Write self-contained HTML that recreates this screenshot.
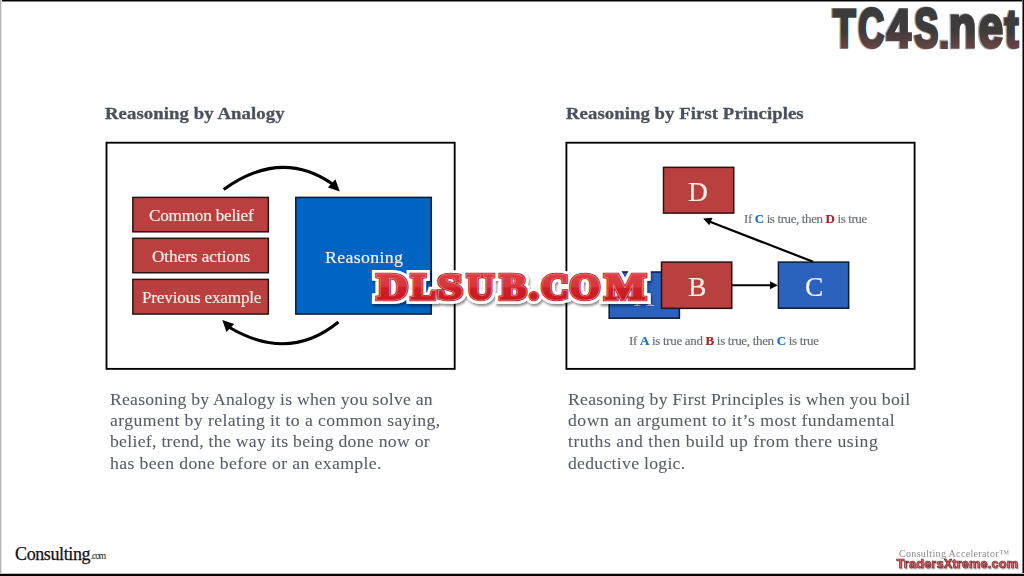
<!DOCTYPE html>
<html><head><meta charset="utf-8">
<style>
html,body{margin:0;padding:0;}
body{width:1024px;height:576px;position:relative;overflow:hidden;background:#fff;font-family:"Liberation Serif",serif;}
.a{position:absolute;}
.bt{left:0;top:0;width:1024px;height:1px;background:#000;box-shadow:0 1px 0 #8a8a8a;}
.bl{left:0;top:0;width:1px;height:576px;background:#b4b4b4;box-shadow:1px 0 0 #e4e4e4;}
.br{left:1023px;top:0;width:1px;height:576px;background:#000;box-shadow:-1px 0 0 #7a7a7a;}
.bb{left:0;top:574px;width:1024px;height:2px;background:#000;box-shadow:0 -1px 0 #c0c0c0;}
.title{font-weight:bold;color:#4b515d;font-size:17px;letter-spacing:1px;white-space:nowrap;line-height:20px;transform:scaleX(1.1);transform-origin:0 0;-webkit-text-stroke:0.3px #4b515d;}
.frame{border:2px solid #000;box-sizing:border-box;}
.rbox{background:#b9403f;border:1.5px solid #2a1212;box-sizing:border-box;}
.bbox{background:#0064c2;border:1.5px solid #0a2a55;box-sizing:border-box;}
.bbox2{background:#2a62bd;border:1.5px solid #0b1a33;box-sizing:border-box;}
.t{color:#f6eeea;white-space:nowrap;transform-origin:0 0;-webkit-text-stroke:0.2px #f6eeea;}
.sx{transform:scaleX(1.07);}
.body{color:#575c66;font-size:16.5px;letter-spacing:0.78px;line-height:21.3px;white-space:nowrap;transform:scaleX(1.07);transform-origin:0 0;-webkit-text-stroke:0.08px #575c66;}
.cap{color:#6a6e74;font-size:12px;white-space:nowrap;line-height:14px;transform:scaleX(1.08);transform-origin:0 0;-webkit-text-stroke:0.15px #6a6e74;}
.cb{color:#1a6dcc;font-weight:bold;-webkit-text-stroke:0.15px #1a6dcc;}
.cr{color:#a52225;font-weight:bold;-webkit-text-stroke:0.15px #a52225;}
</style></head><body>
<div class="a bt"></div><div class="a bl"></div><div class="a br"></div><div class="a bb"></div>

<div class="a title" id="tl" style="left:104.8px;top:104px;letter-spacing:0.086px;">Reasoning by Analogy</div>
<div class="a title" id="tr" style="left:566.4px;top:104px;letter-spacing:0.074px;">Reasoning by First Principles</div>

<svg class="a" style="left:0;top:0" width="1024" height="576"><g fill="none" stroke="#000" stroke-width="1.85"><rect x="106.5" y="142.7" width="348.17" height="226.16"/><rect x="566.4" y="142.7" width="348.2" height="226.16"/></g></svg>

<!-- left diagram -->
<svg class="a" style="left:0;top:0" width="1024" height="576"><rect x="132.85" y="197.4" width="135.48" height="34.4" fill="#b9403f" stroke="#2a1212" stroke-width="1.5"/><rect x="132.85" y="238.3" width="135.48" height="34.45" fill="#b9403f" stroke="#2a1212" stroke-width="1.5"/><rect x="132.85" y="279.4" width="135.48" height="34.66" fill="#b9403f" stroke="#2a1212" stroke-width="1.5"/><rect x="295.8" y="197.4" width="135.5" height="116.66" fill="#0064c2" stroke="#0a1a35" stroke-width="1.5"/></svg>
<div class="a t sx" id="t1" style="left:149px;top:207.8px;font-size:16px;line-height:16px;letter-spacing:-0.184px;">Common belief</div>
<div class="a t sx" id="t2" style="left:152.1px;top:249.4px;font-size:16px;line-height:16px;letter-spacing:-0.02px;">Others actions</div>
<div class="a t sx" id="t3" style="left:141.7px;top:290.4px;font-size:16px;line-height:16px;letter-spacing:-0.17px;">Previous example</div>
<div class="a t sx" id="t4" style="left:324.6px;top:249.8px;font-size:16.6px;line-height:16.6px;letter-spacing:0.35px;">Reasoning</div>

<svg class="a" style="left:0;top:0" width="1024" height="576">
  <g id="arrTop">
  <path d="M223.7 189.5 Q281 148.2 332.5 184" fill="none" stroke="#000" stroke-width="3"/>
  <path d="M339.8 191.6 L327.9 187.4 L335.4 179.3 Z" fill="#000"/>
  </g>
  <path d="M338.4 322 Q289 362.5 229.6 327.5" fill="none" stroke="#000" stroke-width="3"/>
  <path d="M222.3 319.9 L234.2 323.9 L226.5 332 Z" fill="#000"/>
</svg>

<!-- right diagram -->
<svg class="a" style="left:0;top:0" width="1024" height="576"><rect x="663.5" y="167.35" width="70.25" height="45.75" fill="#b9403f" stroke="#2a1212" stroke-width="1.5"/><rect x="609.15" y="272" width="70.25" height="46.2" fill="#2a62bd" stroke="#0b1a33" stroke-width="1.5"/></svg>
<div class="a t" id="tA" style="transform:scaleX(1.001);left:634px;top:282.5px;font-size:27.5px;line-height:28px;">A</div>
<svg class="a" style="left:0;top:0" width="1024" height="576"><rect x="661.5" y="262.1" width="70.25" height="46.25" fill="#b9403f" stroke="#2a1212" stroke-width="1.5"/><rect x="778.4" y="262.1" width="70.25" height="46.1" fill="#2a62bd" stroke="#0b1a33" stroke-width="1.5"/></svg>
<div class="a t" id="tD" style="transform:scaleX(1.001);left:688.35px;top:178.4px;font-size:27.5px;line-height:28px;">D</div>
<div class="a t" id="tB" style="transform:scaleX(1.001);left:687.6px;top:273.1px;font-size:27.5px;line-height:28px;">B</div>
<div class="a t" id="tC" style="transform:scaleX(1.001);left:804.8px;top:273px;font-size:27.5px;line-height:28px;">C</div>
<svg class="a" style="left:0;top:0" width="1024" height="576">
  <line x1="732" y1="285.2" x2="772" y2="285.2" stroke="#000" stroke-width="2"/>
  <path d="M777.9 285.2 L770 281.2 L770 289.2 Z" fill="#000"/>
  <line x1="813.1" y1="261.75" x2="708" y2="221" stroke="#000" stroke-width="2.2"/>
  <path d="M703.1 218.5 L712.5 217.8 L709.3 225.3 Z" fill="#000"/>
</svg>
<div class="a cap" id="capt" style="left:744px;top:212px;letter-spacing:-0.342px;">If <span class="cb">C</span> is true, then <span class="cr">D</span> is true</div>
<div class="a cap" id="capb" style="left:628.6px;top:333.7px;letter-spacing:-0.28px;">If <span class="cb">A</span> is true and <span class="cr">B</span> is true, then <span class="cb">C</span> is true</div>

<div class="a body" id="bl1" style="left:110.4px;top:388.6px;letter-spacing:0.215px;">Reasoning by Analogy is when you solve an</div>
<div class="a body" id="bl2" style="left:110.4px;top:409.9px;letter-spacing:0.395px;">argument by relating it to a common saying,</div>
<div class="a body" id="bl3" style="left:110.4px;top:431.2px;letter-spacing:0.278px;">belief, trend, the way its being done now or</div>
<div class="a body" id="bl4" style="left:110.4px;top:452.5px;letter-spacing:0.362px;">has been done before or an example.</div>
<div class="a body" id="br1" style="left:567.6px;top:388.6px;letter-spacing:0.25px;">Reasoning by First Principles is when you boil</div>
<div class="a body" id="br2" style="left:567.6px;top:409.9px;letter-spacing:0.47px;">down an argument to it’s most fundamental</div>
<div class="a body" id="br3" style="left:567.6px;top:431.2px;letter-spacing:0.49px;">truths and then build up from there using</div>
<div class="a body" id="br4" style="left:567.6px;top:452.5px;letter-spacing:0.274px;">deductive logic.</div>

<!-- dlsub -->
<svg class="a" style="left:0;top:0" width="1024" height="576">
  <defs>
    <linearGradient id="dlg" x1="0" y1="0" x2="0" y2="1">
      <stop offset="0" stop-color="#df4146"/><stop offset="0.48" stop-color="#d8353b"/><stop offset="0.52" stop-color="#cd1f26"/><stop offset="1" stop-color="#c8171e"/>
    </linearGradient>
    <filter id="dls" x="-10%" y="-30%" width="120%" height="170%"><feDropShadow dx="1.2" dy="2.2" stdDeviation="1.1" flood-color="#000" flood-opacity="0.45"/></filter>
  </defs>
  <g font-family="Liberation Serif" font-weight="bold" font-size="35.0" stroke-linejoin="miter" transform="translate(0 0.8)">
   <g fill="#fff" stroke="#fff" stroke-width="10.0" filter="url(#dls)">
    <text transform="translate(377.18 298.35) scale(1.211 1)">D</text>
    <text transform="translate(411.35 298.35) scale(1.063 1)">L</text>
    <text transform="translate(437.44 298.35) scale(1.282 1)">S</text>
    <text transform="translate(467.04 298.35) scale(1.060 1)">U</text>
    <text transform="translate(500.13 298.35) scale(1.115 1)">B</text>
    <text transform="translate(529.19 298.35) scale(1.053 1)">.</text>
    <text transform="translate(541.35 298.35) scale(1.090 1)">C</text>
    <text transform="translate(569.86 298.35) scale(1.113 1)">O</text>
    <text transform="translate(604.91 298.35) scale(1.234 1)">M</text>
   </g>
   <g fill="#b5121a" stroke="#b5121a" stroke-width="4.5">
    <text transform="translate(377.18 298.35) scale(1.211 1)">D</text>
    <text transform="translate(411.35 298.35) scale(1.063 1)">L</text>
    <text transform="translate(437.44 298.35) scale(1.282 1)">S</text>
    <text transform="translate(467.04 298.35) scale(1.060 1)">U</text>
    <text transform="translate(500.13 298.35) scale(1.115 1)">B</text>
    <text transform="translate(529.19 298.35) scale(1.053 1)">.</text>
    <text transform="translate(541.35 298.35) scale(1.090 1)">C</text>
    <text transform="translate(569.86 298.35) scale(1.113 1)">O</text>
    <text transform="translate(604.91 298.35) scale(1.234 1)">M</text>
   </g>
   <g fill="#eb8a8d" stroke="#eb8a8d" stroke-width="3.0">
    <text transform="translate(377.18 298.35) scale(1.211 1)">D</text>
    <text transform="translate(411.35 298.35) scale(1.063 1)">L</text>
    <text transform="translate(437.44 298.35) scale(1.282 1)">S</text>
    <text transform="translate(467.04 298.35) scale(1.060 1)">U</text>
    <text transform="translate(500.13 298.35) scale(1.115 1)">B</text>
    <text transform="translate(529.19 298.35) scale(1.053 1)">.</text>
    <text transform="translate(541.35 298.35) scale(1.090 1)">C</text>
    <text transform="translate(569.86 298.35) scale(1.113 1)">O</text>
    <text transform="translate(604.91 298.35) scale(1.234 1)">M</text>
   </g>
   <g fill="url(#dlg)" stroke="url(#dlg)" stroke-width="1.7000000000000002">
    <text transform="translate(377.18 298.35) scale(1.211 1)">D</text>
    <text transform="translate(411.35 298.35) scale(1.063 1)">L</text>
    <text transform="translate(437.44 298.35) scale(1.282 1)">S</text>
    <text transform="translate(467.04 298.35) scale(1.060 1)">U</text>
    <text transform="translate(500.13 298.35) scale(1.115 1)">B</text>
    <text transform="translate(529.19 298.35) scale(1.053 1)">.</text>
    <text transform="translate(541.35 298.35) scale(1.090 1)">C</text>
    <text transform="translate(569.86 298.35) scale(1.113 1)">O</text>
    <text transform="translate(604.91 298.35) scale(1.234 1)">M</text>
   </g>
  </g>
</svg>
<!-- /dlsub -->
<!-- tc4s -->
<svg class="a" style="left:0;top:0" width="1024" height="576">
  <defs>
    <linearGradient id="tcg" x1="0" y1="0" x2="0" y2="1">
      <stop offset="0" stop-color="#3b3b3b"/><stop offset="0.55" stop-color="#3e3b3b"/><stop offset="0.8" stop-color="#634444"/><stop offset="1" stop-color="#844e4e"/>
    </linearGradient>
  </defs>
  <g font-family="Liberation Sans" font-weight="bold" font-size="55.0" stroke-linejoin="miter" transform="translate(0 0.7)">
   <g fill="#a8a8a8" stroke="#a8a8a8" stroke-width="4.2" transform="translate(-0.8 -0.5)">
    <text transform="translate(832.94 46.41) scale(0.677 0.991)">T</text>
    <text transform="translate(858.24 46.45) scale(0.655 0.999)">C</text>
    <text transform="translate(886.82 46.41) scale(0.790 0.991)">4</text>
    <text transform="translate(914.30 46.45) scale(0.661 0.999)">S</text>
    <text transform="translate(939.00 46.85) scale(0.682 0.702)">.</text>
    <text transform="translate(948.99 46.31) scale(0.813 1.061)">n</text>
    <text transform="translate(978.64 46.32) scale(0.796 1.062)">e</text>
    <text transform="translate(1004.82 46.51) scale(0.753 0.972)">t</text>
   </g>
   <g fill="url(#tcg)" stroke="url(#tcg)" stroke-width="3.0">
    <text transform="translate(832.94 46.41) scale(0.677 0.991)">T</text>
    <text transform="translate(858.24 46.45) scale(0.655 0.999)">C</text>
    <text transform="translate(886.82 46.41) scale(0.790 0.991)">4</text>
    <text transform="translate(914.30 46.45) scale(0.661 0.999)">S</text>
    <text transform="translate(939.00 46.85) scale(0.682 0.702)">.</text>
    <text transform="translate(948.99 46.31) scale(0.813 1.061)">n</text>
    <text transform="translate(978.64 46.32) scale(0.796 1.062)">e</text>
    <text transform="translate(1004.82 46.51) scale(0.753 0.972)">t</text>
   </g>
  </g>
</svg>
<!-- /tc4s -->
<!-- footer -->
<div class="a" id="lg1" style="left:15px;top:544.5px;font-size:18px;line-height:18px;color:#111;white-space:nowrap;letter-spacing:-0.378px;-webkit-text-stroke:0.25px #111;">Consulting</div>
<div class="a" id="lg2" style="left:90.8px;top:552px;font-size:9.5px;line-height:9.5px;color:#222;white-space:nowrap;letter-spacing:-1.1px;">.com</div>
<div class="a" id="acc" style="left:898.6px;top:548px;font-size:10px;color:#8a8a8a;transform:scaleX(1.001);white-space:nowrap;line-height:12px;letter-spacing:0.336px;">Consulting Accelerator™</div>
<!-- txw -->
<svg class="a" style="left:0;top:0" width="1024" height="576">
  <defs><filter id="txs" x="-5%" y="-40%" width="110%" height="180%"><feDropShadow dx="0.8" dy="1.2" stdDeviation="0.6" flood-color="#000" flood-opacity="0.3"/></filter></defs>
  <text id="txw" x="896.6" y="568.3" font-family="Liberation Sans" font-weight="bold" font-size="12.8" textLength="121.5" lengthAdjust="spacing" fill="#e8606a" stroke="#5a1616" stroke-width="0.6" stroke-linejoin="round" filter="url(#txs)">TradersXtreme.com</text>
</svg>
<!-- /txw -->
</body></html>
